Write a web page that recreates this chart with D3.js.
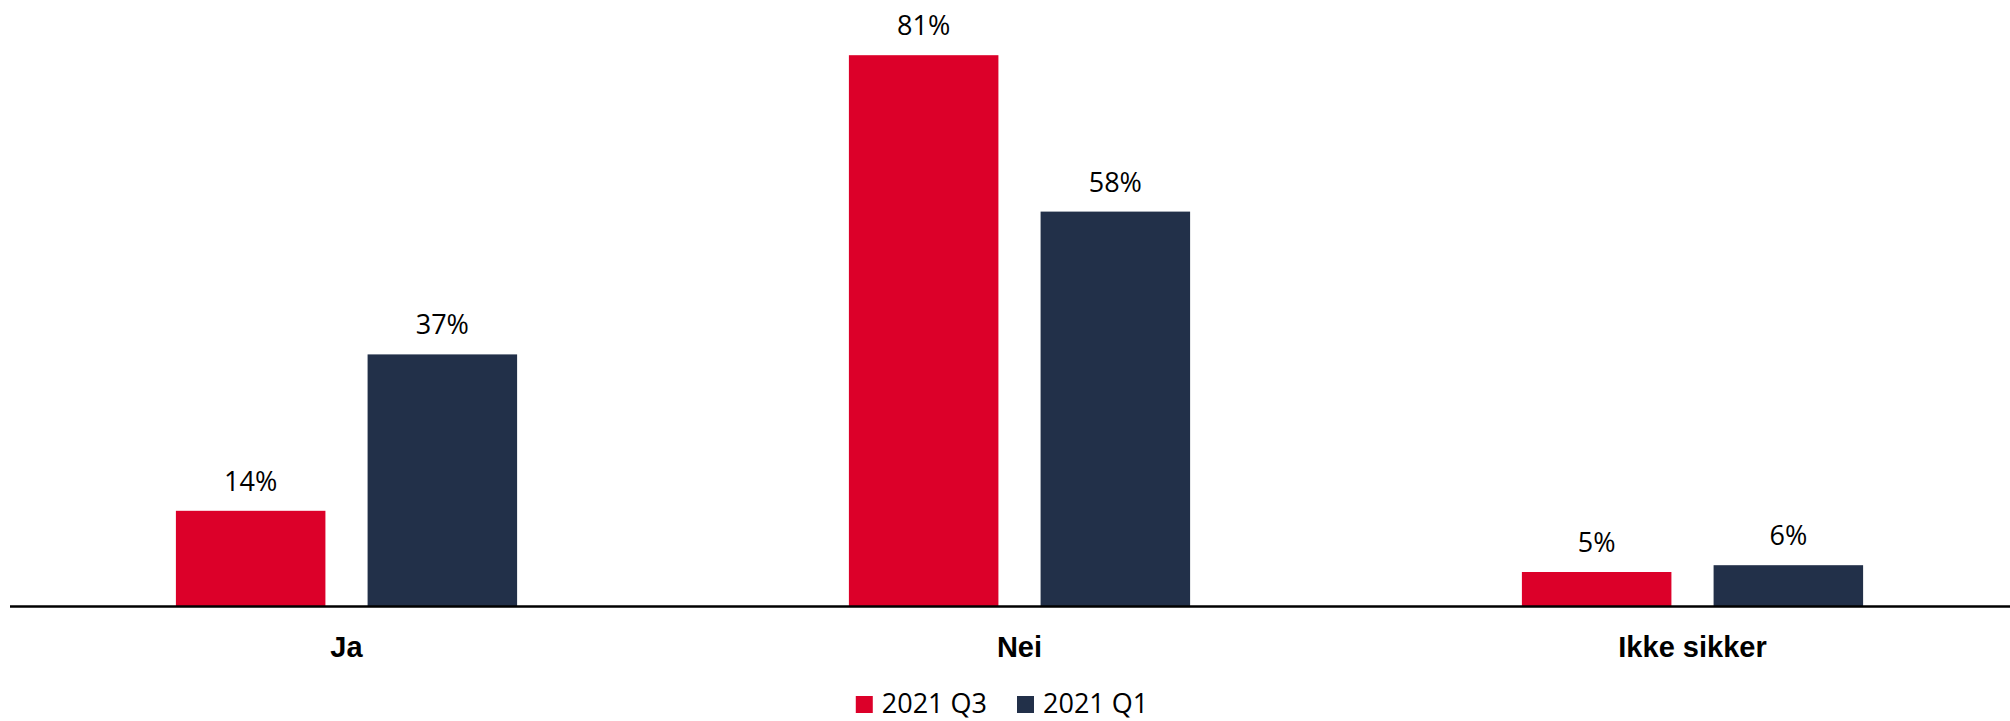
<!DOCTYPE html>
<html lang="no">
<head>
    <meta charset="UTF-8">
    <title>Ja / Nei / Ikke sikker</title>
    <script src="https://d3js.org/d3.v7.min.js"></script>
    <style>
        body { margin: 0; background: #fff; }
        .value { font-family: "Open Sans", sans-serif; font-size: 27px; fill: #000; }
        .cat { font-family: "Liberation Sans", Arial, sans-serif; font-size: 29px; font-weight: bold; fill: #000; }
        .legend text { font-family: "Open Sans", sans-serif; font-size: 27px; fill: #000; }
    </style>
</head>
<body>
<svg width="2010" height="721"></svg>
<script>
    // data
    const categories = ["Ja", "Nei", "Ikke sikker"];
    const seriesNames = ["2021 Q3", "2021 Q1"];
    const q3Values = [14, 81, 5];
    const q1Values = [37, 58, 6];
    const colors = ["#dc0029", "#223049"];

    const svg = d3.select("svg"),
        width = +svg.attr("width");

    const baseY = 606;

    const x0 = d3.scaleBand()
        .domain(categories)
        .range([10, 2029])
        .paddingInner(0.493)
        .paddingOuter(0.2465);

    const x1 = d3.scaleBand()
        .domain(seriesNames)
        .range([0, x0.bandwidth()])
        .paddingInner(0.22);

    const y = d3.scaleLinear()
        .domain([0, 90])
        .range([baseY, baseY - 90 * 6.8]);

    const color = d3.scaleOrdinal().domain(seriesNames).range(colors);

    const rows = categories.map((c, i) => ({
        cat: c,
        vals: [
            {series: seriesNames[0], value: q3Values[i]},
            {series: seriesNames[1], value: q1Values[i]}
        ]
    }));

    const groups = svg.append("g")
        .selectAll("g")
        .data(rows)
        .enter().append("g")
        .attr("transform", d => `translate(${x0(d.cat)},0)`);

    groups.selectAll("rect")
        .data(d => d.vals)
        .enter().append("rect")
        .attr("x", d => x1(d.series))
        .attr("y", d => y(d.value))
        .attr("width", x1.bandwidth())
        .attr("height", d => y(0) - y(d.value))
        .attr("fill", d => color(d.series));

    groups.selectAll("text.value")
        .data(d => d.vals)
        .enter().append("text")
        .attr("class", "value")
        .attr("x", d => x1(d.series) + x1.bandwidth() / 2)
        .attr("y", d => y(d.value) - 20)
        .attr("text-anchor", "middle")
        .text(d => d.value + "%");

    // axis line
    svg.append("line")
        .attr("x1", 10)
        .attr("x2", width)
        .attr("y1", baseY + 0.5)
        .attr("y2", baseY + 0.5)
        .attr("stroke", "#000")
        .attr("stroke-width", 2.5);

    svg.append("g")
        .selectAll("text")
        .data(categories)
        .enter().append("text")
        .attr("class", "cat")
        .attr("x", d => x0(d) + x0.bandwidth() / 2)
        .attr("y", 657)
        .attr("text-anchor", "middle")
        .text(d => d);

    // legend
    const legend = svg.append("g").attr("class", "legend");
    const box = 17, boxGap = 9, itemGap = 30;
    const items = legend.selectAll("g")
        .data(seriesNames)
        .enter().append("g");
    items.append("rect")
        .attr("width", box)
        .attr("height", box)
        .attr("y", 696)
        .attr("fill", d => color(d));
    items.append("text")
        .attr("x", box + boxGap)
        .attr("y", 713)
        .text(d => d);

    let offset = 0;
    const widths = [];
    items.each(function () {
        const w = box + boxGap + this.querySelector("text").getComputedTextLength();
        widths.push(w);
    });
    const total = d3.sum(widths) + itemGap * (widths.length - 1);
    const startX = 1002 - total / 2;
    items.attr("transform", (d, i) => {
        const tx = startX + offset;
        offset += widths[i] + itemGap;
        return `translate(${tx},0)`;
    });
</script>
</body>
</html>
